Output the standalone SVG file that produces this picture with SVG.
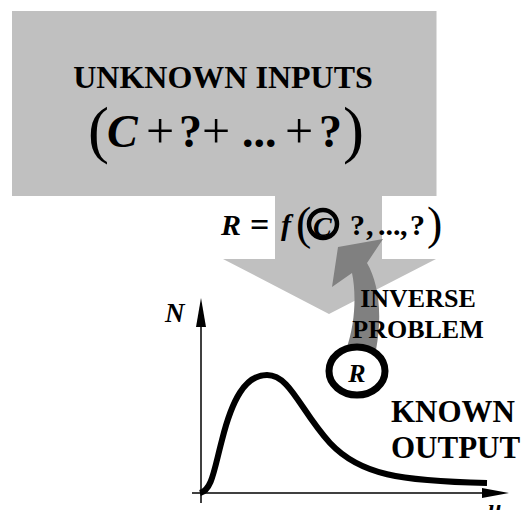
<svg xmlns="http://www.w3.org/2000/svg" width="523" height="510" viewBox="0 0 523 510">
<style>
.t{font-family:"Liberation Serif","Times New Roman",serif;fill:#000}
.b{font-weight:bold}
.i{font-style:italic}
.lg{fill:#c0c0c0}
.dg{fill:#808080}
.ax{stroke:#000;stroke-width:1.5;fill:none}
</style>
<rect width="523" height="510" fill="#fff"/>
<g id="connectors">
<polygon id="big-arrow" class="lg" points="275,195 382,195 382,259 436,259 329,314 223,259 275,259"/>
<path id="inverse-arrow" class="dg" d="M338,247 L383,239 L367,263 C378,282 383,312 376,350 L346,350 C356,322 356,292 352,273 L332,287 Z"/>
</g>
<g id="unknown-inputs">
<rect x="12" y="11" width="424.5" height="185" class="lg"/>
<text class="t b" x="223" y="88" font-size="32" text-anchor="middle">UNKNOWN INPUTS</text>
<text class="t" font-size="50">
<tspan x="88" y="151" font-size="63">(</tspan>
<tspan x="107" y="147" font-size="46" class="b i">C</tspan>
<tspan x="146" y="148">+</tspan>
<tspan x="179" y="147" font-size="46" class="b">?</tspan>
<tspan x="202" y="148">+</tspan>
<tspan x="242" y="147" font-size="46" class="b">...</tspan>
<tspan x="285" y="148">+</tspan>
<tspan x="319" y="147" font-size="46" class="b">?</tspan>
<tspan x="343" y="151" font-size="63">)</tspan>
</text>
</g>
<g id="formula">
<text class="t" font-size="30">
<tspan x="221" y="235" class="b i">R</tspan>
<tspan x="250" y="236" font-size="34" class="b">=</tspan>
<tspan x="281" y="235" class="b i">f</tspan>
<tspan x="296" y="239" font-size="46">(</tspan>
<tspan x="313" y="236" font-size="28" class="b i">C</tspan>
<tspan x="350" y="235" class="b">?</tspan>
<tspan x="366" y="235" class="b">,</tspan>
<tspan x="378" y="235" class="b">...</tspan>
<tspan x="400" y="235" class="b">,</tspan>
<tspan x="410" y="235" class="b">?</tspan>
<tspan x="427" y="239" font-size="46">)</tspan>
</text>
<circle cx="323" cy="224" r="14" fill="none" stroke="#000" stroke-width="4.5"/>
</g>
<g id="inverse-problem">
<text class="t b" font-size="26" text-anchor="middle"><tspan x="418" y="307">INVERSE</tspan><tspan x="418" y="338">PROBLEM</tspan></text>
</g>
<g id="output-r">
<ellipse cx="357" cy="371" rx="28" ry="24" fill="#fff" stroke="#000" stroke-width="7"/>
<text class="t b i" x="357" y="382" font-size="26" text-anchor="middle">R</text>
</g>
<g id="known-output">
<text class="t b" font-size="31"><tspan x="391" y="422">KNOWN</tspan><tspan x="391" y="458">OUTPUT</tspan></text>
</g>
<g id="graph">
<line class="ax" x1="201" y1="320" x2="201" y2="503"/>
<polygon points="201,298 196,327 206,327" fill="#000"/>
<line class="ax" x1="192" y1="493" x2="486" y2="493"/>
<polygon points="509,493 482,488 482,498" fill="#000"/>
<text class="t b i" x="165" y="322" font-size="27">N</text>
<text class="t b i" x="488" y="516" font-size="24">u</text>
<path d="M200,493 C212,490 214,470 222,440 C232,400 245,375 267,375 C290,375 300,410 330,443 C360,475 400,481 487,483" fill="none" stroke="#000" stroke-width="6"/>
</g>
</svg>
